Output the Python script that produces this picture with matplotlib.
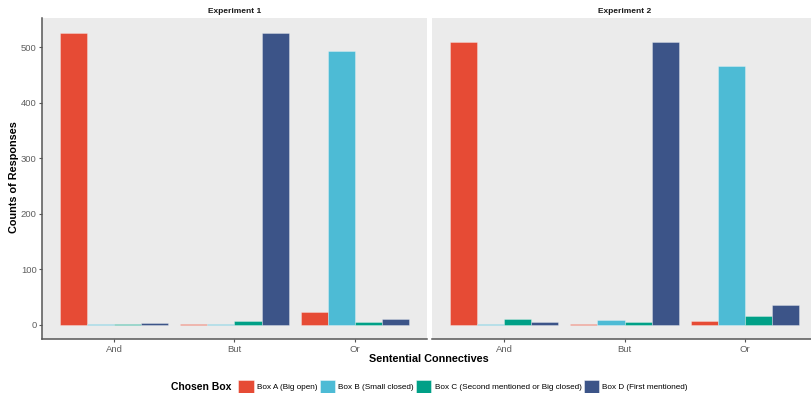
import matplotlib
matplotlib.use("Agg")
import matplotlib.pyplot as plt
import numpy as np
from matplotlib.patches import Patch
from matplotlib.offsetbox import HPacker

plt.rcParams['font.family'] = ['Liberation Sans', 'DejaVu Sans']

connectives = ["And", "But", "Or"]
boxes = ["Box A (Big open)", "Box B (Small closed)",
         "Box C (Second mentioned or Big closed)", "Box D (First mentioned)"]
colors = ["#E64B35", "#4DBBD5", "#00A087", "#3C5488"]
experiments = ["Experiment 1", "Experiment 2"]

# counts per box (rows) for each connective (columns)
exp1_counts = [
    [526, 1, 23],
    [1, 1, 494],
    [1, 7, 4],
    [3, 525, 11],
]
exp2_counts = [
    [510, 1, 6],
    [1, 9, 466],
    [11, 4, 16],
    [5, 509, 36],
]
yticks = [0, 100, 200, 300, 400, 500]

W, H = 811, 393
fig = plt.figure(figsize=(W / 100, H / 100), dpi=100)

def px_axes(x0, y0, x1, y1):
    return fig.add_axes([x0 / W, 1 - y1 / H, (x1 - x0) / W, (y1 - y0) / H])

panel_top, panel_bot = 18.3, 339.3
ax1 = px_axes(42.3, panel_top, 426.7, panel_bot)
ax2 = px_axes(432.3, panel_top, 816.7, panel_bot)

all_max = max(max(max(r) for r in exp1_counts), max(max(r) for r in exp2_counts))
ylo, yhi = -0.05 * all_max, all_max * 1.05

axis_col = "#555555"
tick_col = "#5E5E5E"
x = np.arange(len(connectives))
bw = 0.9 / len(boxes)

for i, (ax, counts, title) in enumerate(zip([ax1, ax2], [exp1_counts, exp2_counts], experiments)):
    ax.set_facecolor("#EBEBEB")
    for k, (vals, c) in enumerate(zip(counts, colors)):
        ax.bar(x - 0.45 + bw * (k + 0.5), vals, width=bw, color=c,
               edgecolor=(1, 1, 1, 0.35), linewidth=0.6, zorder=2)
    ax.set_xlim(-0.6, len(connectives) - 0.4)
    ax.set_ylim(ylo, yhi)
    ax.set_xticks(x)
    ax.set_xticklabels(connectives, fontsize=6.8, color=tick_col)
    for s in ["top", "right"]:
        ax.spines[s].set_visible(False)
    ax.spines["bottom"].set_color(axis_col)
    ax.spines["bottom"].set_linewidth(1.1)
    ax.tick_params(axis="x", length=2.5, width=0.8, color=axis_col, pad=1.5)
    if i == 0:
        ax.set_yticks(yticks)
        ax.set_yticklabels([str(t) for t in yticks], fontsize=6.8, color=tick_col)
        ax.spines["left"].set_color(axis_col)
        ax.spines["left"].set_linewidth(1.1)
        ax.tick_params(axis="y", length=2.5, width=0.8, color=axis_col, pad=1.5)
    else:
        ax.spines["left"].set_visible(False)
        ax.set_yticks([])
    ax.text(0.5, 1.0 + 7.3 / (panel_bot - panel_top), title, transform=ax.transAxes,
            ha="center", va="center", fontsize=6, fontweight="bold", color="#1A1A1A")

fig.text(14 / W, 1 - 177 / H, "Counts of Responses", rotation=90, ha="center", va="center",
         fontsize=7.8, fontweight="bold")
fig.text(429 / W, 1 - 359 / H, "Sentential Connectives", ha="center", va="center",
         fontsize=7.8, fontweight="bold")

handles = [Patch(facecolor=c, edgecolor=(1, 1, 1, 0.5), linewidth=0.6) for c in colors]
leg = fig.legend(handles, boxes, loc="center", bbox_to_anchor=(429.5 / W, 1 - 386.5 / H),
                 ncol=4, frameon=False, fontsize=5.9, title="Chosen Box",
                 title_fontproperties={"weight": "bold", "size": 7.5},
                 handlelength=1.85, handleheight=2.0, handletextpad=0.4,
                 columnspacing=0.3, borderpad=0)
# put the legend title to the left of the entries, on the same row
title_box = leg._legend_title_box
entries = leg._legend_handle_box
leg._legend_box._children = [HPacker(pad=0, sep=5, align="center",
                                     children=[title_box, entries])]

fig.savefig("out.png", dpi=100)
